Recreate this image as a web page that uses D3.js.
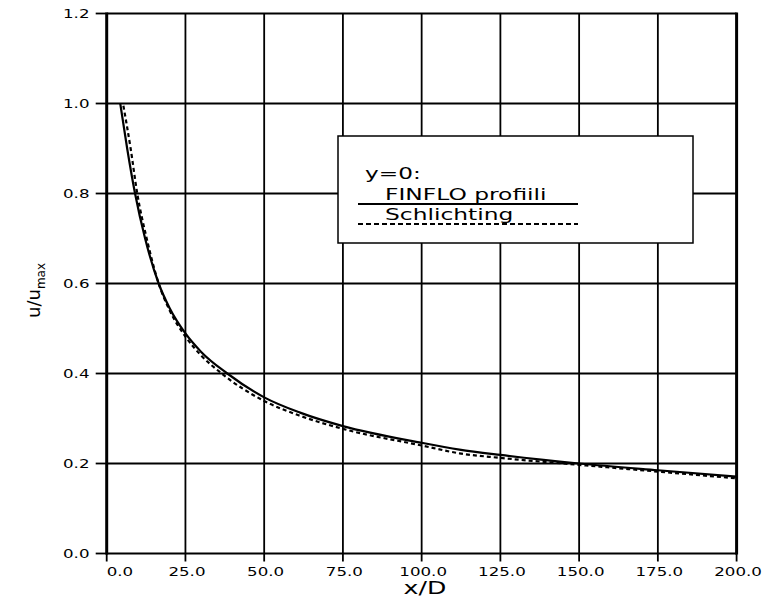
<!DOCTYPE html>
<html><head><meta charset="utf-8">
<script src="https://cdn.jsdelivr.net/npm/d3@7"></script>
<style>body{margin:0;background:#fff}svg{display:block}</style>
</head><body>
<svg id="c" width="767" height="601"></svg>
<script>
// ---- data ----
const xTicks = [0, 25, 50, 75, 100, 125, 150, 175, 200];
const xTickLabels = ["0.0", "25.0", "50.0", "75.0", "100.0", "125.0", "150.0", "175.0", "200.0"];
const yTicks = [0, 0.2, 0.4, 0.6, 0.8, 1.0, 1.2];
const yTickLabels = ["0.0", "0.2", "0.4", "0.6", "0.8", "1.0", "1.2"];

const finfloX = [4.3, 6.5, 9.0, 12.2, 16.5, 20, 25, 30, 38.3, 50, 61.4, 75, 100, 112, 125, 150, 175, 200];
const finfloY = [1.0, 0.90, 0.80, 0.70, 0.60, 0.545, 0.489, 0.448, 0.40, 0.347, 0.313, 0.283, 0.246, 0.231, 0.219, 0.200, 0.185, 0.171];

const schlX = [5.3, 7.6, 9.7, 12.7, 16.5, 20, 25, 30, 36.5, 50, 61.4, 75, 100, 112, 125, 150, 175, 200];
const schlY = [0.995, 0.90, 0.80, 0.70, 0.60, 0.540, 0.482, 0.440, 0.40, 0.339, 0.306, 0.277, 0.240, 0.2226, 0.2125, 0.197, 0.182, 0.167];

const legendTitle = "y=0:";
const seriesNames = ["FINFLO profiili", "Schlichting"];
const xTitle = "x/D";
const yTitleMain = "u/u";
const yTitleSub = "max";

// ---- drawing ----
const svg = d3.select("#c");
const FONT = "DejaVu Sans, sans-serif";
const x = d3.scaleLinear().domain([0, 200]).range([106.7, 736.6]);
const y = d3.scaleLinear().domain([0, 1.2]).range([553.5, 13.5]);

svg.append("rect").attr("width", 767).attr("height", 601).attr("fill", "#fff");

function stext(parent, tx, ty, str, size, anchor, f) {
  const g = parent.append("g").attr("transform", `translate(${tx},${ty}) scale(${f},1)`);
  g.append("text").attr("x", 0).attr("y", 0).attr("font-family", FONT)
    .attr("font-size", size).attr("text-anchor", anchor).attr("fill", "#000").text(str);
  return g;
}

// grid
const grid = svg.append("g");
grid.selectAll("line.v").data(xTicks.slice(1, -1)).join("line")
  .attr("x1", d => x(d)).attr("x2", d => x(d)).attr("y1", y(1.2)).attr("y2", y(0))
  .attr("stroke", "#000").attr("stroke-width", 1.8);
grid.selectAll("line.h").data(yTicks.slice(1, -1)).join("line")
  .attr("x1", x(0)).attr("x2", x(200)).attr("y1", d => y(d)).attr("y2", d => y(d))
  .attr("stroke", "#000").attr("stroke-width", 1.8);

// frame
svg.append("line").attr("x1", x(0)).attr("x2", x(200)).attr("y1", y(1.2)).attr("y2", y(1.2)).attr("stroke", "#000").attr("stroke-width", 2);
svg.append("line").attr("x1", x(0)).attr("x2", x(200)).attr("y1", y(0)).attr("y2", y(0)).attr("stroke", "#000").attr("stroke-width", 2);
svg.append("line").attr("x1", x(0)).attr("x2", x(0)).attr("y1", y(1.2) - 1).attr("y2", y(0) + 1).attr("stroke", "#000").attr("stroke-width", 3);
svg.append("line").attr("x1", x(200)).attr("x2", x(200)).attr("y1", y(1.2) - 1).attr("y2", y(0) + 1).attr("stroke", "#000").attr("stroke-width", 3);

// ticks
svg.selectAll("line.yt").data(yTicks).join("line")
  .attr("x1", x(0) - 11).attr("x2", x(0)).attr("y1", d => y(d)).attr("y2", d => y(d))
  .attr("stroke", "#000").attr("stroke-width", 1.8);
svg.selectAll("line.xt").data(xTicks).join("line")
  .attr("x1", d => x(d)).attr("x2", d => x(d)).attr("y1", y(0)).attr("y2", y(0) + 8)
  .attr("stroke", "#000").attr("stroke-width", 1.8);

// tick labels
yTicks.forEach((d, i) => stext(svg, 89.5, y(d) + 4.2, yTickLabels[i], 11.5, "end", 1.45));
xTicks.forEach((d, i) => {
  if (i === 0) stext(svg, x(d), 575.5, xTickLabels[i], 11.5, "start", 1.45);
  else stext(svg, x(d) + 1.5, 575.5, xTickLabels[i], 11.5, "middle", 1.45);
});

// axis titles
stext(svg, 425, 594, xTitle, 18, "middle", 1.4);
const yt = svg.append("text").attr("transform", "translate(40,318) rotate(-90)")
  .attr("font-family", FONT).attr("font-size", 18).attr("fill", "#000");
yt.append("tspan").text(yTitleMain);
yt.append("tspan").attr("font-size", 12).attr("dy", 5).text(yTitleSub);

// curves
const line = d3.line().x(d => x(d[0])).y(d => y(d[1])).curve(d3.curveMonotoneX);
svg.append("path").datum(finfloX.map((v, i) => [v, finfloY[i]])).attr("d", line)
  .attr("fill", "none").attr("stroke", "#000").attr("stroke-width", 2.2);
svg.append("path").datum(schlX.map((v, i) => [v, schlY[i]])).attr("d", line)
  .attr("fill", "none").attr("stroke", "#000").attr("stroke-width", 2.2).attr("stroke-dasharray", "4,3");

// legend
const lg = svg.append("g");
lg.append("rect").attr("x", 338).attr("y", 136).attr("width", 355).attr("height", 107)
  .attr("fill", "#fff").attr("stroke", "#000").attr("stroke-width", 1.5);
stext(lg, 365, 179, legendTitle, 16, "start", 1.45);
stext(lg, 385, 199.5, seriesNames[0], 16, "start", 1.46);
stext(lg, 385, 219.5, seriesNames[1], 16, "start", 1.46);
lg.append("line").attr("x1", 358).attr("x2", 578).attr("y1", 204).attr("y2", 204)
  .attr("stroke", "#000").attr("stroke-width", 2);
lg.append("line").attr("x1", 358).attr("x2", 578).attr("y1", 224).attr("y2", 224)
  .attr("stroke", "#000").attr("stroke-width", 2).attr("stroke-dasharray", "5,3");
</script>
</body></html>
